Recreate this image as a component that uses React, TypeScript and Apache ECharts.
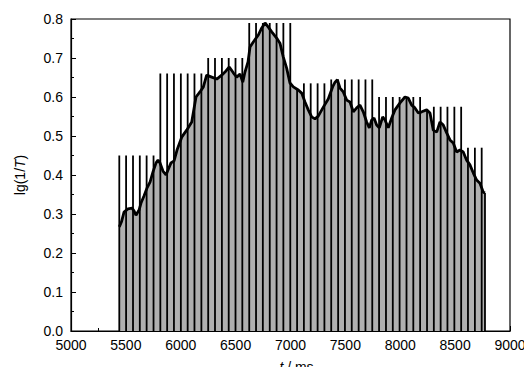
import React, { useEffect, useRef } from "react";
import * as echarts from "echarts";

// Absorbance curve lg(1/T) vs time (ms)
const curveTimes = [
  5440, 5440, 5460, 5483, 5519, 5556, 5574, 5592, 5620, 5638, 5665, 5693, 5720, 5747, 5775, 5793,
  5811, 5838, 5866, 5884, 5911, 5939, 5966, 6009, 6054, 6100, 6116, 6139, 6175, 6206, 6236, 6282,
  6328, 6373, 6403, 6442, 6479, 6510, 6540, 6565, 6585, 6613, 6631, 6661, 6707, 6738, 6768, 6798,
  6829, 6874, 6904, 6934, 6965, 6995, 7026, 7071, 7102, 7132, 7162, 7193, 7223, 7253, 7299, 7344,
  7387, 7406, 7427, 7451, 7481, 7512, 7542, 7572, 7603, 7633, 7663, 7694, 7718, 7740, 7761, 7785,
  7809, 7840, 7861, 7891, 7922, 7952, 7998, 8043, 8073, 8104, 8134, 8165, 8196, 8241, 8271, 8301,
  8332, 8362, 8392, 8423, 8453, 8483, 8514, 8544, 8574, 8605, 8635, 8666, 8696, 8726, 8757, 8772,
  8772,
];
const curveValues = [
  0, 0.267, 0.28, 0.305, 0.313, 0.315, 0.308, 0.297, 0.31, 0.328, 0.346, 0.367, 0.382, 0.408, 0.431, 0.438,
  0.431, 0.41, 0.4, 0.413, 0.431, 0.436, 0.464, 0.497, 0.515, 0.536, 0.562, 0.6, 0.613, 0.626, 0.656, 0.651,
  0.646, 0.656, 0.664, 0.677, 0.662, 0.651, 0.659, 0.638, 0.664, 0.69, 0.728, 0.741, 0.759, 0.777, 0.79, 0.779,
  0.767, 0.751, 0.738, 0.703, 0.674, 0.636, 0.626, 0.618, 0.61, 0.587, 0.567, 0.549, 0.544, 0.551, 0.574, 0.595,
  0.628, 0.638, 0.644, 0.623, 0.613, 0.592, 0.587, 0.562, 0.572, 0.579, 0.562, 0.536, 0.521, 0.541, 0.546, 0.528,
  0.521, 0.549, 0.541, 0.521, 0.546, 0.567, 0.585, 0.6, 0.597, 0.579, 0.572, 0.559, 0.562, 0.567, 0.559, 0.515,
  0.51, 0.536, 0.528, 0.508, 0.49, 0.482, 0.459, 0.464, 0.459, 0.438, 0.426, 0.405, 0.387, 0.379, 0.356, 0.354,
  0,
];

// Vertical marker lines (time, height)
const spikeTimes = [
  5440, 5502, 5565, 5627, 5689, 5752, 5814, 5876, 5938, 6001, 6063, 6125, 6188, 6250, 6312, 6375,
  6437, 6499, 6561, 6624, 6686, 6748, 6811, 6873, 6935, 6998, 7060, 7122, 7184, 7247, 7309, 7371,
  7434, 7496, 7558, 7621, 7683, 7745, 7807, 7870, 7932, 7994, 8057, 8119, 8181, 8244, 8306, 8368,
  8430, 8493, 8555, 8617, 8680, 8742, 8772,
];
const spikeValues = [
  0.45, 0.45, 0.45, 0.45, 0.45, 0.45, 0.66, 0.66, 0.66, 0.66, 0.66, 0.66, 0.66, 0.7, 0.7, 0.7,
  0.7, 0.7, 0.7, 0.79, 0.79, 0.79, 0.79, 0.79, 0.79, 0.79, 0.62, 0.635, 0.635, 0.635, 0.635, 0.645,
  0.645, 0.645, 0.645, 0.645, 0.645, 0.645, 0.6, 0.6, 0.6, 0.6, 0.6, 0.6, 0.6, 0.567, 0.575, 0.575,
  0.575, 0.575, 0.575, 0.47, 0.47, 0.47, 0.354,
];

const xTickLabels = ["5000", "5500", "6000", "6500", "7000", "7500", "8000", "8500", "9000"];
const yTickLabels = ["0.0", "0.1", "0.2", "0.3", "0.4", "0.5", "0.6", "0.7", "0.8"];

const FONT = "'Liberation Sans', Arial, sans-serif";

export default function App() {
  const ref = useRef<HTMLDivElement>(null);
  useEffect(() => {
    if (!ref.current) return;
    const chart = echarts.init(ref.current, null, { renderer: "svg" });
    const area = curveTimes.map((t, i) => [t, curveValues[i]]);
    const outline = area.slice(1, area.length - 1);
    const spikes = spikeTimes.map((t, i) => [t, spikeValues[i]]);
    chart.setOption({
      animation: false,
      backgroundColor: "#ffffff",
      grid: {
        left: 71,
        right: 22,
        top: 19,
        bottom: 44,
        containLabel: false,
        outerBoundsMode: "none",
        show: true,
        borderColor: "#000",
        borderWidth: 1.2,
        backgroundColor: "transparent",
      },
      xAxis: {
        type: "value",
        min: 5000,
        max: 9000,
        interval: 500,
        name: "{i|t} / ms",
        nameLocation: "middle",
        nameGap: 29,
        nameTextStyle: {
          color: "#000",
          fontSize: 14,
          lineHeight: 14,
          fontFamily: FONT,
          padding: [0, 0, 0, 12],
          rich: { i: { fontStyle: "italic", fontSize: 14, lineHeight: 14, fontFamily: FONT, color: "#000" } },
        },
        axisLine: { show: true, lineStyle: { color: "#000", width: 1.2 } },
        axisTick: { show: true, inside: true, length: 5, lineStyle: { color: "#000" } },
        minorTick: { show: true, splitNumber: 2, length: 3, lineStyle: { color: "#000" } },
        splitLine: { show: false },
        axisLabel: {
          color: "#000",
          fontSize: 14,
          fontFamily: FONT,
          margin: 7,
          formatter: (v: number) => xTickLabels[Math.round((v - 5000) / 500)] ?? "",
        },
      },
      yAxis: {
        type: "value",
        min: 0,
        max: 0.8,
        interval: 0.1,
        name: "lg(1/{i|T})",
        nameLocation: "middle",
        nameGap: 44,
        nameTextStyle: {
          color: "#000",
          fontSize: 14,
          fontFamily: FONT,
          rich: { i: { fontStyle: "italic", fontSize: 14, fontFamily: FONT, color: "#000" } },
        },
        axisLine: { show: true, lineStyle: { color: "#000", width: 1.2 } },
        axisTick: { show: true, inside: true, length: 5, lineStyle: { color: "#000" } },
        minorTick: { show: true, splitNumber: 2, length: 3, lineStyle: { color: "#000" } },
        splitLine: { show: false },
        axisLabel: {
          color: "#000",
          fontSize: 14,
          fontFamily: FONT,
          margin: 8,
          formatter: (v: number) => yTickLabels[Math.round(v * 10)] ?? "",
        },
      },
      series: [
        {
          type: "line",
          data: area,
          symbol: "none",
          lineStyle: { width: 0, opacity: 0 },
          areaStyle: { color: "#b0b0b0", opacity: 1 },
          z: 1,
        },
        {
          type: "bar",
          data: spikes,
          barWidth: 1.8,
          itemStyle: { color: "#000" },
          z: 2,
        },
        {
          type: "line",
          data: outline,
          symbol: "none",
          lineStyle: { color: "#000", width: 2.8 },
          z: 3,
        },
      ],
    });
    return () => chart.dispose();
  }, []);
  return <div ref={ref} style={{ width: 532, height: 375, margin: -8 }} />;
}
